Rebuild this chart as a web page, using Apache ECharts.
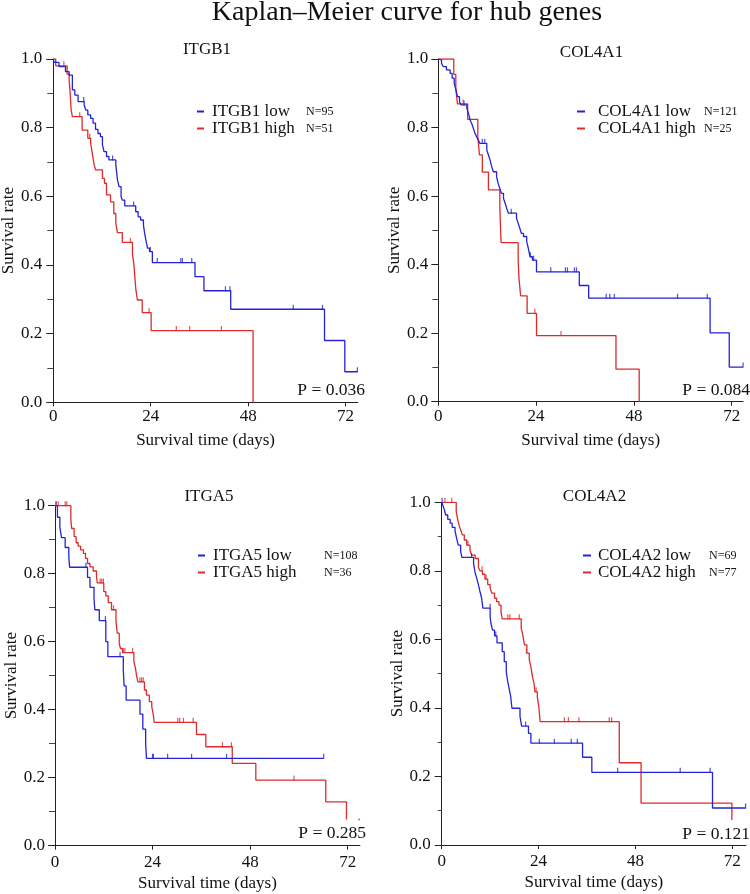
<!DOCTYPE html>
<html>
<head>
<meta charset="utf-8">
<script src="https://cdn.jsdelivr.net/npm/echarts@6/dist/echarts.min.js"></script>
<style>
html,body{margin:0;padding:0;background:#fff;}
#chart{width:750px;height:894px;}
</style>
</head>
<body>
<div id="chart"></div>
<script>
// ---------- data ----------
const mainTitle = 'Kaplan\u2013Meier curve for hub genes';
const genes = ['ITGB1', 'COL4A1', 'ITGA5', 'COL4A2'];
const nLow = [95, 121, 108, 69];
const nHigh = [51, 25, 36, 77];
const pValues = ['0.036', '0.084', '0.285', '0.121'];
const xTicks = [0, 24, 48, 72];
const xMaxes = [75, 74.8, 75, 75.4];

// ITGB1
const itgb1LowSteps = [[0,1],[0.2,0.99],[1.4,0.978],[3.0,0.963],[3.9,0.953],[4.7,0.91],[5.3,0.895],[6.1,0.876],[7.6,0.866],[8.0,0.851],[8.5,0.837],[9.2,0.827],[9.8,0.813],[10.4,0.795],[11.0,0.783],[11.6,0.774],[12.1,0.75],[12.5,0.73],[13.1,0.716],[13.7,0.706],[15.4,0.691],[15.8,0.648],[16.2,0.628],[16.7,0.599],[17.0,0.589],[17.6,0.572],[20.3,0.555],[20.9,0.54],[21.5,0.531],[22.2,0.517],[22.5,0.492],[22.8,0.473],[23.2,0.449],[23.7,0.439],[24.4,0.407],[34.9,0.366],[37.1,0.325],[43.7,0.271],[66.8,0.18],[71.8,0.089],[74.9,0.089]];
const itgb1LowCens = [[7.5,0.876],[14.6,0.706],[19.8,0.572],[23.9,0.439],[25.6,0.407],[31.4,0.407],[31.8,0.407],[34.1,0.407],[42.4,0.325],[43.5,0.325],[59.1,0.271],[66.3,0.271],[74.9,0.089]];
const itgb1HighSteps = [[0,1],[0.6,0.98],[3.4,0.956],[3.9,0.939],[4.1,0.91],[4.4,0.851],[4.7,0.832],[7.1,0.793],[8.5,0.769],[9.2,0.754],[9.6,0.725],[10.0,0.696],[10.4,0.677],[12.1,0.652],[12.6,0.638],[13.1,0.604],[14.1,0.584],[14.9,0.55],[15.4,0.521],[15.8,0.494],[17.0,0.466],[19.5,0.434],[19.9,0.395],[20.3,0.332],[20.7,0.298],[21.9,0.261],[24.1,0.209],[49.2,0]];
const itgb1HighCens = [[2.6,0.98],[6.5,0.832],[9.0,0.769],[19.0,0.466],[23.6,0.261],[30.3,0.209],[33.6,0.209],[41.4,0.209]];

// COL4A1
const col4a1LowSteps = [[0,1],[0.4,0.997],[0.8,0.987],[1.2,0.978],[2.0,0.968],[2.9,0.958],[3.4,0.944],[3.9,0.929],[4.3,0.911],[4.7,0.89],[5.2,0.875],[5.6,0.866],[7.0,0.856],[7.4,0.842],[7.8,0.822],[8.2,0.812],[8.6,0.798],[9.0,0.783],[9.4,0.773],[9.8,0.764],[10.2,0.754],[11.9,0.734],[12.3,0.72],[12.7,0.705],[13.1,0.686],[13.5,0.671],[14.3,0.656],[14.7,0.637],[15.1,0.622],[15.5,0.608],[16.0,0.593],[16.4,0.579],[16.8,0.564],[17.2,0.55],[19.2,0.535],[19.6,0.521],[20.0,0.506],[20.4,0.491],[20.9,0.482],[21.7,0.467],[22.1,0.447],[22.5,0.423],[23.1,0.413],[24.1,0.379],[34.6,0.339],[36.9,0.302],[66.7,0.201],[71.4,0.101],[74.8,0.101]];
const col4a1LowCens = [[6.3,0.866],[10.8,0.754],[11.4,0.754],[17.9,0.55],[22.6,0.423],[23.4,0.413],[27.6,0.379],[31.2,0.379],[31.7,0.379],[33.4,0.379],[33.9,0.379],[41.2,0.302],[42.1,0.302],[43.2,0.302],[58.7,0.302],[66.0,0.302],[74.8,0.101]];
const col4a1HighSteps = [[0,1],[3.8,0.955],[4.3,0.914],[4.7,0.869],[7.2,0.824],[9.7,0.773],[10.1,0.72],[10.8,0.67],[12.3,0.618],[15.1,0.567],[15.4,0.464],[19.6,0.413],[19.8,0.36],[20.2,0.309],[21.8,0.258],[24.1,0.193],[43.6,0.095],[49.3,0]];
const col4a1HighCens = [[6.1,0.869],[23.7,0.258],[30.1,0.193]];

// ITGA5
const itga5LowSteps = [[0,1],[0.6,0.966],[1.2,0.936],[1.6,0.906],[2.5,0.877],[3.4,0.848],[3.6,0.819],[8.0,0.789],[8.6,0.76],[9.6,0.725],[9.8,0.694],[10.9,0.662],[12.5,0.6],[13.0,0.556],[16.8,0.517],[17.0,0.47],[17.5,0.428],[20.9,0.387],[21.6,0.343],[22.3,0.298],[22.5,0.257],[66.1,0.257]];
const itga5LowCens = [[0.3,1],[7.6,0.819],[12.4,0.662],[16.0,0.556],[24.0,0.257],[24.2,0.257],[27.7,0.257],[33.6,0.257],[42.2,0.257],[66.1,0.257]];
const itga5HighSteps = [[0,1],[3.9,0.958],[4.1,0.933],[4.7,0.909],[5.2,0.891],[5.7,0.881],[6.3,0.87],[7.0,0.86],[7.5,0.845],[8.0,0.83],[8.6,0.82],[9.4,0.808],[10.2,0.793],[10.4,0.773],[12.0,0.747],[12.5,0.735],[13.1,0.715],[13.9,0.694],[15.0,0.66],[15.3,0.625],[15.8,0.595],[16.1,0.58],[16.6,0.568],[19.4,0.541],[19.8,0.522],[20.1,0.497],[20.4,0.482],[22.0,0.458],[22.5,0.443],[23.2,0.424],[23.8,0.409],[24.2,0.384],[24.4,0.363],[34.8,0.327],[37.1,0.291],[43.6,0.242],[49.4,0.193],[66.6,0.129],[71.7,0.077]];
const itga5HighCens = [[0.2,1],[0.8,1],[2.5,1],[2.9,1],[11.1,0.773],[11.5,0.773],[11.9,0.773],[14.4,0.694],[16.8,0.568],[17.2,0.568],[19.1,0.568],[20.9,0.482],[21.3,0.482],[21.7,0.482],[30.2,0.363],[30.7,0.363],[31.6,0.363],[34.0,0.363],[41.2,0.291],[43.4,0.291],[58.8,0.193]];
const itga5HighEndDot = [[74.8,0.077]];

// COL4A2
const col4a2LowSteps = [[0,1],[0.25,0.992],[0.6,0.98],[1.0,0.963],[1.5,0.95],[2.1,0.939],[2.6,0.927],[3.3,0.917],[3.7,0.895],[4.1,0.875],[4.7,0.856],[5.0,0.839],[7.9,0.822],[8.3,0.793],[8.7,0.778],[9.1,0.759],[9.5,0.739],[9.9,0.72],[10.2,0.691],[12.0,0.666],[12.2,0.647],[12.6,0.627],[13.1,0.61],[13.7,0.59],[15.0,0.564],[15.5,0.535],[16.0,0.506],[16.3,0.481],[16.7,0.457],[17.1,0.433],[17.4,0.399],[19.4,0.375],[19.8,0.347],[21.5,0.326],[22.1,0.297],[34.9,0.256],[37.2,0.212],[67.1,0.108],[75.3,0.108]];
const col4a2LowCens = [[0.1,1],[7.4,0.839],[12.0,0.691],[13.4,0.61],[20.8,0.347],[24.2,0.297],[27.9,0.297],[32.1,0.297],[33.6,0.297],[43.6,0.212],[59.1,0.212],[66.5,0.212],[75.3,0.108]];
const col4a2HighSteps = [[0,1],[3.6,0.973],[4.0,0.948],[4.4,0.929],[4.8,0.916],[5.1,0.905],[5.6,0.89],[6.2,0.875],[7.0,0.861],[7.4,0.846],[8.3,0.836],[9.1,0.81],[9.5,0.8],[10.1,0.79],[10.7,0.776],[11.4,0.76],[12.0,0.75],[12.4,0.735],[13.1,0.72],[13.6,0.71],[14.2,0.7],[14.7,0.68],[15.0,0.66],[19.7,0.632],[20.1,0.613],[20.5,0.584],[21.1,0.56],[21.7,0.54],[22.1,0.52],[22.5,0.49],[22.9,0.47],[23.1,0.447],[23.7,0.432],[24.1,0.399],[24.4,0.36],[44.0,0.24],[49.4,0.122],[71.9,0.073]];
const col4a2HighCens = [[0.8,1],[2.5,1],[6.5,0.875],[10.0,0.8],[11.0,0.776],[16.4,0.66],[16.9,0.66],[19.2,0.66],[21.0,0.56],[23.4,0.447],[30.4,0.36],[31.4,0.36],[34.0,0.36],[41.5,0.36],[42.1,0.36]];

const lowSteps = [itgb1LowSteps, col4a1LowSteps, itga5LowSteps, col4a2LowSteps];
const lowCens = [itgb1LowCens, col4a1LowCens, itga5LowCens, col4a2LowCens];
const highSteps = [itgb1HighSteps, col4a1HighSteps, itga5HighSteps, col4a2HighSteps];
const highCens = [itgb1HighCens, col4a1HighCens, itga5HighCens, col4a2HighCens];

// ---------- layout ----------
const FONT = "'Liberation Serif', 'Times New Roman', serif";
const BLUE = '#2323d8';
const RED = '#de2a2a';
const TXT = '#111';
const grids = [
  {left: 53.3, top: 59, width: 304.5, height: 343.3},
  {left: 438.3, top: 59, width: 304.8, height: 342.7},
  {left: 55, top: 505.7, width: 304.9, height: 340},
  {left: 441.7, top: 502.3, width: 304.3, height: 342.7}
];
const yOffsets = [3, 2, 2, 3];
const xOffsets = [4, 4, 3, 3];
const xLabelMargins = [2, 2, 5, 5];
const titlePos = [[207, 50], [591.5, 53], [209, 497], [594.5, 497]];
const pPos = [[365, 390], [750, 390], [366, 833], [750, 834]];
const legendPos = [
  {left: 197, top: 103, iw: 7, sp: 3, aw: 94},
  {left: 577, top: 103, iw: 8, sp: 8, aw: 106},
  {left: 198, top: 547, iw: 7, sp: 3, aw: 111},
  {left: 583, top: 547, iw: 8, sp: 2, aw: 111}
];

const option = {
  animation: false,
  backgroundColor: '#fff',
  grid: grids.map(g => Object.assign({containLabel: false, outerBoundsMode: 'none'}, g)),
  xAxis: genes.map((g, i) => ({
    type: 'value', gridIndex: i, min: 0, max: xMaxes[i], interval: 24,
    offset: xOffsets[i],
    name: 'Survival time (days)', nameLocation: 'middle', nameGap: 26,
    nameTextStyle: {fontFamily: FONT, fontSize: 17, color: TXT},
    axisLine: {show: true, lineStyle: {color: '#222', width: 1}},
    axisTick: {show: true, length: 4, lineStyle: {color: '#222'}, customValues: xTicks},
    axisLabel: {fontFamily: FONT, fontSize: 17, color: TXT, margin: xLabelMargins[i],
      customValues: xTicks,
      formatter: v => (v % 24 === 0 ? String(v) : '')},
    splitLine: {show: false}
  })),
  yAxis: genes.map((g, i) => ({
    type: 'value', gridIndex: i, min: 0, max: 1, interval: 0.2,
    offset: yOffsets[i],
    name: 'Survival rate', nameLocation: 'middle', nameGap: 33,
    nameTextStyle: {fontFamily: FONT, fontSize: 17, color: TXT},
    axisLine: {show: true, lineStyle: {color: '#222', width: 1}},
    axisTick: {show: true, length: 7, lineStyle: {color: '#222'}},
    minorTick: {show: true, splitNumber: 2, length: i === 3 ? 4 : 6, lineStyle: {color: '#444'}},
    axisLabel: {fontFamily: FONT, fontSize: 17, color: TXT, margin: 8,
      formatter: v => v.toFixed(1)},
    splitLine: {show: false}
  })),
  legend: genes.map((g, i) => ({
    orient: 'vertical', left: legendPos[i].left, top: legendPos[i].top,
    padding: 0, itemGap: 0, itemWidth: legendPos[i].iw, itemHeight: 2, icon: 'rect',
    selectedMode: false,
    data: [g + ' low', g + ' high'],
    formatter: name => {
      const n = name.endsWith('low') ? nLow[i] : nHigh[i];
      return '{s| }{a|' + name + '}{b|N=' + n + '}';
    },
    textStyle: {
      fontFamily: FONT, color: TXT, lineHeight: 16,
      rich: {
        s: {width: legendPos[i].sp, fontSize: 17, lineHeight: 16},
        a: {width: legendPos[i].aw, fontSize: 17, fontFamily: FONT, color: TXT, lineHeight: 16},
        b: {fontSize: 12, fontFamily: FONT, color: TXT, lineHeight: 16}
      }
    }
  })),
  graphic: [
    {type: 'text', x: 407, y: 13, style: {text: mainTitle, font: '28px ' + FONT, fill: TXT, textAlign: 'center', textVerticalAlign: 'middle'}}
  ].concat(genes.map((g, i) => ({
    type: 'text', x: titlePos[i][0], y: titlePos[i][1],
    style: {text: g, font: '17px ' + FONT, fill: TXT, textAlign: 'center', textVerticalAlign: 'middle'}
  }))).concat(pValues.map((p, i) => ({
    type: 'text', x: pPos[i][0], y: pPos[i][1],
    style: {text: 'P = ' + p, font: '17.5px ' + FONT, fill: TXT, textAlign: 'right', textVerticalAlign: 'middle'}
  }))),
  series: []
};

genes.forEach((g, i) => {
  option.series.push({
    name: g + ' low', type: 'line', xAxisIndex: i, yAxisIndex: i, step: 'end',
    showSymbol: false, symbol: 'none', color: BLUE,
    lineStyle: {color: BLUE, width: 1.3}, data: lowSteps[i], z: 3
  });
  option.series.push({
    name: g + ' high', type: 'line', xAxisIndex: i, yAxisIndex: i, step: 'end',
    showSymbol: false, symbol: 'none', color: RED,
    lineStyle: {color: RED, width: 1.3}, data: highSteps[i], z: 2
  });
  option.series.push({
    name: g + ' low censored', type: 'scatter', xAxisIndex: i, yAxisIndex: i,
    symbol: 'rect', symbolSize: [1.2, 5], symbolOffset: [0, -2],
    itemStyle: {color: BLUE}, data: lowCens[i], z: 4
  });
  option.series.push({
    name: g + ' high censored', type: 'scatter', xAxisIndex: i, yAxisIndex: i,
    symbol: 'rect', symbolSize: [1.2, 5], symbolOffset: [0, -2],
    itemStyle: {color: RED}, data: highCens[i], z: 4
  });
});
option.series.push({
  name: 'ITGA5 high end', type: 'scatter', xAxisIndex: 2, yAxisIndex: 2,
  symbol: 'rect', symbolSize: [2, 1.5], itemStyle: {color: RED}, data: itga5HighEndDot, z: 4
});

const chart = echarts.init(document.getElementById('chart'), null, {renderer: 'canvas'});
chart.setOption(option);
</script>
</body>
</html>
